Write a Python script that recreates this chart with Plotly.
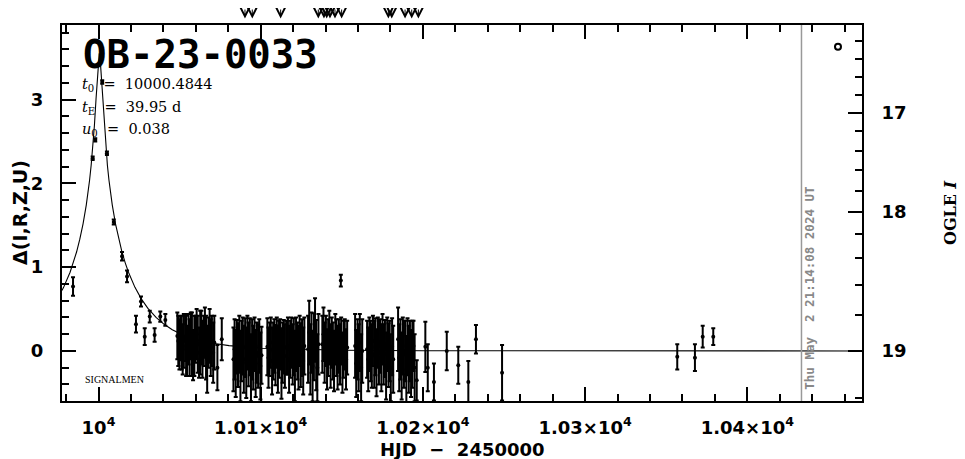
import numpy as np
import plotly.graph_objects as go

# ---------------- data ----------------
# model curve samples (HJD-2450000, Delta mag)
model_t = [9977.48, 9978.48, 9982.48, 9984.48, 9986.48, 9988.48, 9990.48, 9992.48, 9993.48,
           9994.48, 9995.48, 9996.48, 9997.48, 9998.48, 9999.48, 9999.98, 10000.48, 10000.98,
           10001.48, 10002.48, 10003.48, 10004.48, 10005.48, 10006.48, 10007.48, 10008.48,
           10010.48, 10012.48, 10014.48, 10016.48, 10018.48, 10022.48, 10026.48, 10030.48,
           10035.48, 10040.48, 10045.48, 10050.48, 10060.48, 10070.48, 10080.48, 10100.48,
           10150.48, 10200.48, 10300.48, 10471.0]
model_d = [0.721, 0.759, 0.940, 1.052, 1.181, 1.334, 1.517, 1.744, 1.879,
           2.034, 2.216, 2.430, 2.690, 3.006, 3.356, 3.495, 3.551, 3.495,
           3.356, 3.006, 2.690, 2.430, 2.216, 2.034, 1.879, 1.744,
           1.517, 1.334, 1.181, 1.052, 0.940, 0.759, 0.619, 0.508,
           0.400, 0.318, 0.254, 0.205, 0.135, 0.092, 0.064, 0.033,
           0.008, 0.003, 0.001, 0.000]

# OGLE points near the peak (tiny errors)
peak_t = [9996.4, 9998.0, 10002.3, 10005.2, 10009.4, 10014.5, 10017.6, 10026.2]
peak_d = [2.30, 2.52, 3.21, 2.36, 1.54, 1.13, 0.89, 0.59]
peak_e = [0.02, 0.02, 0.02, 0.02, 0.03, 0.05, 0.07, 0.06]

# early / sparse points
early_t = [9984.3, 10023.1, 10028.5, 10031.6, 10034.6, 10038.1, 10041.2, 10149.4,
           10073.3, 10076.0, 10196.2, 10201.5, 10203.0, 10206.8, 10214.7, 10221.8,
           10228.0, 10232.7, 10248.8, 10356.8, 10367.7, 10372.5, 10379.0]
early_d = [0.77, 0.32, 0.17, 0.41, 0.19, 0.41, 0.37, 0.84,
           -0.20, 0.14, -0.35, 0.05, -0.20, -0.37, 0.00, -0.17,
           -0.37, 0.14, -0.26, -0.07, -0.08, 0.17, 0.17]
early_e = [0.11, 0.10, 0.10, 0.07, 0.08, 0.06, 0.07, 0.07,
           0.27, 0.25, 0.24, 0.30, 0.28, 0.22, 0.23, 0.22,
           0.25, 0.17, 0.33, 0.15, 0.16, 0.13, 0.10]

# dense survey season
dense_t = [10048.6, 10049.2, 10049.9, 10050.5, 10051.3, 10051.9, 10052.6, 10053.4, 10054.0, 10054.7,
           10055.5, 10056.2, 10056.9, 10057.6, 10058.3, 10059.1, 10059.8, 10060.5, 10061.2, 10062.0,
           10062.7, 10063.4, 10064.1, 10064.9, 10065.6, 10066.3, 10067.0, 10067.8, 10068.5, 10069.2,
           10069.9, 10070.7, 10071.4,
           10083.2, 10083.9, 10084.6, 10085.3, 10086.0, 10086.8, 10087.5, 10088.2, 10088.9, 10089.6,
           10090.4, 10091.1, 10091.8, 10092.5, 10093.3, 10094.0, 10094.7, 10095.4, 10096.2, 10096.9,
           10097.6, 10098.4, 10099.1, 10099.8, 10100.5,
           10104.1, 10104.8, 10105.5, 10106.2, 10107.0, 10107.7, 10108.4, 10109.1, 10109.9, 10110.6,
           10111.3, 10112.0, 10112.8, 10113.5, 10114.2, 10114.9, 10115.7, 10116.8, 10117.5, 10118.2,
           10118.9, 10119.7, 10120.4, 10121.1, 10121.8, 10122.6, 10123.3, 10124.0, 10124.7, 10125.5,
           10126.2, 10126.9,
           10129.2, 10129.9, 10130.6, 10131.3, 10132.0, 10132.8, 10133.5, 10134.2, 10134.9, 10135.6,
           10138.0, 10138.7, 10139.4, 10140.2, 10140.9, 10141.6, 10142.3, 10143.1, 10143.8, 10144.5,
           10145.2, 10146.0, 10146.7, 10147.4, 10148.2, 10148.9, 10149.6, 10150.4, 10151.1, 10151.8,
           10152.6, 10153.3,
           10158.2, 10158.9, 10159.7, 10160.4, 10161.1, 10161.9, 10162.6,
           10165.6, 10166.3, 10167.0, 10167.8, 10168.5, 10169.2, 10170.0, 10170.7, 10171.4, 10172.2,
           10172.9, 10173.6, 10174.4, 10175.1, 10175.8, 10176.6, 10177.3, 10178.0, 10178.8, 10179.5,
           10180.2, 10181.0, 10181.7,
           10184.7, 10185.4, 10186.1, 10186.9, 10187.6, 10188.3, 10189.1, 10189.8, 10190.5, 10191.3,
           10192.0, 10192.7, 10193.5, 10194.2, 10194.9]
dense_d = [0.18, 0.12, 0.08, 0.15, 0.10, 0.02, 0.12, 0.16, 0.06, 0.00,
           0.14, 0.04, 0.18, 0.08, -0.05, 0.06, 0.14, 0.20, 0.08, -0.02,
           0.10, 0.16, 0.02, 0.12, 0.22, 0.04, -0.10, 0.10, 0.18, 0.04,
           0.12, -0.02, 0.10,
           -0.10, 0.02, -0.15, 0.05, -0.05, 0.08, -0.18, 0.00, 0.06, -0.10,
           0.04, -0.14, 0.10, -0.04, 0.05, -0.20, 0.02, -0.08, 0.08, -0.15,
           -0.02, -0.06, 0.06, -0.18, -0.05,
           0.05, -0.08, 0.02, 0.10, -0.12, 0.00, 0.06, -0.05, 0.10, -0.10,
           0.02, 0.08, -0.15, -0.02, 0.05, -0.06, 0.04, 0.06, -0.10, 0.02,
           0.10, -0.04, 0.05, -0.18, 0.08, 0.00, -0.08, 0.12, -0.05, 0.04,
           -0.12, 0.06,
           0.02, 0.22, -0.10, 0.10, -0.18, 0.05, 0.25, -0.05, -0.20, 0.08,
           0.08, 0.20, -0.02, 0.12, -0.10, 0.04, 0.16, -0.06, 0.10, 0.00,
           -0.12, 0.14, 0.04, -0.08, 0.06, -0.04, 0.12, -0.14, 0.02, 0.08,
           -0.10, 0.04,
           0.06, -0.15, 0.02, -0.08, 0.10, -0.20, 0.00,
           0.02, -0.10, 0.08, 0.00, -0.06, 0.12, -0.04, 0.05, -0.14, 0.10,
           -0.02, 0.06, -0.08, 0.14, -0.04, 0.03, -0.18, 0.08, -0.05, 0.00,
           -0.20, 0.05, -0.10,
           0.14, -0.08, 0.02, -0.18, 0.06, -0.04, 0.00, -0.22, 0.05, -0.10,
           0.00, -0.15, -0.04, 0.06, -0.20]
dense_e = [0.28, 0.30, 0.30, 0.26, 0.32, 0.30, 0.32, 0.28, 0.36, 0.30,
           0.30, 0.34, 0.28, 0.38, 0.30, 0.36, 0.28, 0.30, 0.34, 0.30,
           0.38, 0.32, 0.34, 0.30, 0.30, 0.38, 0.40, 0.30, 0.32, 0.34,
           0.30, 0.36, 0.32,
           0.38, 0.36, 0.40, 0.32, 0.38, 0.34, 0.42, 0.36, 0.34, 0.40,
           0.35, 0.42, 0.32, 0.38, 0.34, 0.40, 0.36, 0.38, 0.32, 0.40,
           0.36, 0.38, 0.32, 0.40, 0.34,
           0.34, 0.36, 0.32, 0.30, 0.40, 0.34, 0.32, 0.36, 0.30, 0.40,
           0.34, 0.30, 0.42, 0.36, 0.32, 0.38, 0.32, 0.34, 0.40, 0.34,
           0.30, 0.36, 0.34, 0.42, 0.32, 0.34, 0.38, 0.30, 0.38, 0.34,
           0.40, 0.34,
           0.40, 0.38, 0.42, 0.36, 0.42, 0.40, 0.38, 0.42, 0.40, 0.36,
           0.34, 0.32, 0.36, 0.30, 0.36, 0.34, 0.32, 0.38, 0.30, 0.34,
           0.36, 0.30, 0.34, 0.38, 0.32, 0.36, 0.28, 0.36, 0.34, 0.30,
           0.36, 0.32,
           0.38, 0.40, 0.36, 0.40, 0.34, 0.40, 0.38,
           0.34, 0.38, 0.32, 0.36, 0.38, 0.30, 0.40, 0.34, 0.40, 0.30,
           0.38, 0.32, 0.40, 0.30, 0.36, 0.34, 0.40, 0.32, 0.38, 0.36,
           0.40, 0.34, 0.40,
           0.38, 0.40, 0.36, 0.40, 0.34, 0.40, 0.36, 0.40, 0.34, 0.40,
           0.36, 0.40, 0.40, 0.30, 0.40]

# latest OGLE point (open circle, top right)
last_t = [10455.9]
last_d = [3.63]

# times of the downward arrows above the frame
arrow_t = [10090.3, 10094.8, 10112.3, 10135.5, 10139.0, 10140.7, 10142.7, 10145.8,
           10149.9, 10178.7, 10180.8, 10189.0, 10193.1, 10197.2]

now_t = 10433.39
now_label = "Thu May  2 21:14:08 2024 UT"

x_ticks = [10000, 10100, 10200, 10300, 10400]
x_ticktext = ["10<sup>4</sup>", "1.01×10<sup>4</sup>", "1.02×10<sup>4</sup>",
              "1.03×10<sup>4</sup>", "1.04×10<sup>4</sup>"]
y_ticks = [0, 1, 2, 3]
mag_major = [17.0, 18.0, 19.0]
mag_minor = [16.2, 16.4, 16.6, 16.8, 17.2, 17.4, 17.6, 17.8,
             18.2, 18.4, 18.6, 18.8, 19.2]
I_BASE = 19.0
F_S = 0.418

X_RANGE = [9977.5, 10470.7]
Y_RANGE = [-0.597, 3.89]


def mag_to_delta(m):
    m = np.asarray(m, dtype=float)
    return 2.5 * np.log10(1.0 + (10 ** (-0.4 * (m - I_BASE)) - 1.0) / F_S)


fig = go.Figure()

fig.add_trace(go.Scatter(x=model_t, y=model_d, mode="lines",
                         line=dict(color="black", width=1.1), hoverinfo="skip"))

err_style = dict(type="data", thickness=2, width=2, color="black")
for tt, dd, ee in [(dense_t, dense_d, dense_e), (early_t, early_d, early_e), (peak_t, peak_d, peak_e)]:
    fig.add_trace(go.Scatter(x=tt, y=dd, mode="markers",
                             error_y=dict(array=ee, **err_style),
                             marker=dict(size=4, color="black")))

fig.add_trace(go.Scatter(x=last_t, y=last_d, mode="markers",
                         marker=dict(size=6, color="white", symbol="circle",
                                     line=dict(color="black", width=2))))

# invisible trace on the right axis
fig.add_trace(go.Scatter(x=[X_RANGE[0]], y=[0], yaxis="y2", mode="markers",
                         marker=dict(opacity=0), hoverinfo="skip"))

tickfont = dict(family="DejaVu Sans", size=18, color="black", weight="bold")

# the page body has an 8px margin, so the figure is 8px smaller than the window
fig.update_layout(
    width=957, height=451,
    margin=dict(l=54, r=103, t=17, b=58),
    paper_bgcolor="white", plot_bgcolor="white",
    showlegend=False,
    xaxis=dict(range=X_RANGE, tickmode="array", tickvals=x_ticks, ticktext=x_ticktext,
               ticks="inside", ticklen=14, tickwidth=2, tickcolor="black",
               minor=dict(tick0=10000, dtick=20, ticks="inside", ticklen=7,
                          tickwidth=2, tickcolor="black"),
               showline=True, linewidth=2, linecolor="black", mirror="ticks",
               showgrid=False, zeroline=False, tickfont=tickfont,
               ticklabelstandoff=9),
    yaxis=dict(range=Y_RANGE, tickmode="array", tickvals=y_ticks,
               ticks="inside", ticklen=14, tickwidth=2, tickcolor="black",
               minor=dict(tick0=0, dtick=0.2, ticks="inside", ticklen=7,
                          tickwidth=2, tickcolor="black"),
               showline=True, linewidth=2, linecolor="black",
               showgrid=False, zeroline=False, tickfont=tickfont,
               ticklabelstandoff=13),
    yaxis2=dict(range=Y_RANGE, overlaying="y", side="right", anchor="x",
                tickmode="array", tickvals=list(mag_to_delta(mag_major)),
                ticktext=[str(int(m)) for m in mag_major],
                ticks="inside", ticklen=14, tickwidth=2, tickcolor="black",
                minor=dict(tickmode="array", tickvals=list(mag_to_delta(mag_minor)),
                           ticks="inside", ticklen=7, tickwidth=2, tickcolor="black"),
                showline=True, linewidth=2, linecolor="black",
                showgrid=False, zeroline=False, tickfont=tickfont,
                ticklabelstandoff=14),
)

fig.add_shape(type="line", xref="x", yref="paper", x0=now_t, x1=now_t, y0=0, y1=1,
              line=dict(color="#999999", width=1.5))

NB = "\u00a0"
ann = []
ann.append(dict(x=now_t, y=0.30, xref="x", yref="paper", text=now_label.replace(" ", NB),
                textangle=-90, showarrow=False, xshift=8, yanchor="middle", xanchor="center",
                font=dict(family="DejaVu Sans Mono", size=12.5, color="#888888", weight="bold")))
ann.append(dict(x=0.024, y=0.922, xref="paper", yref="paper", text="OB-23-0033",
                showarrow=False, xanchor="left", yanchor="middle",
                font=dict(family="DejaVu Sans Mono", size=39, color="black", weight="bold")))
params = ["<i>t</i><sub>0</sub>" + NB * 2 + "=" + NB * 2 + "10000.4844",
          "<i>t</i><sub>E</sub>" + NB * 2 + "=" + NB * 2 + "39.95" + NB + "d",
          "<i>u</i><sub>0</sub>" + NB * 2 + "=" + NB * 2 + "0.038"]
for i, p in enumerate(params):
    ann.append(dict(x=0.023, y=0.840 - i * 0.060, xref="paper", yref="paper", text=p,
                    showarrow=False, xanchor="left", yanchor="middle",
                    font=dict(family="DejaVu Serif", size=14.5, color="black")))
ann.append(dict(x=0.026, y=0.056, xref="paper", yref="paper", text="SIGNALMEN",
                showarrow=False, xanchor="left", yanchor="middle",
                font=dict(family="Liberation Serif", size=10, color="black")))
ann.append(dict(x=0.5, y=-0.128, xref="paper", yref="paper",
                text="HJD" + NB * 2 + "−" + NB * 2 + "2450000",
                showarrow=False, xanchor="center", yanchor="middle",
                font=dict(family="DejaVu Sans", size=18, color="black", weight="bold")))
ann.append(dict(x=-0.0525, y=0.50, xref="paper", yref="paper", text="Δ(I,R,Z,U)",
                textangle=-90, showarrow=False, xanchor="center", yanchor="middle",
                font=dict(family="DejaVu Sans", size=19, color="black", weight="bold")))
ann.append(dict(x=1.110, y=0.50, xref="paper", yref="paper", text="OGLE" + NB + "<i>I</i>",
                textangle=-90, showarrow=False, xanchor="center", yanchor="middle",
                font=dict(family="DejaVu Serif", size=16, color="black", weight="bold")))
for t in arrow_t:
    ann.append(dict(x=t, y=1.017, xref="x", yref="paper", text="", showarrow=True,
                    ax=0, ay=-14, arrowhead=5, arrowsize=2, arrowwidth=1,
                    arrowcolor="black", standoff=0, startstandoff=0))
fig.update_layout(annotations=ann)

fig.write_html("out.html")
